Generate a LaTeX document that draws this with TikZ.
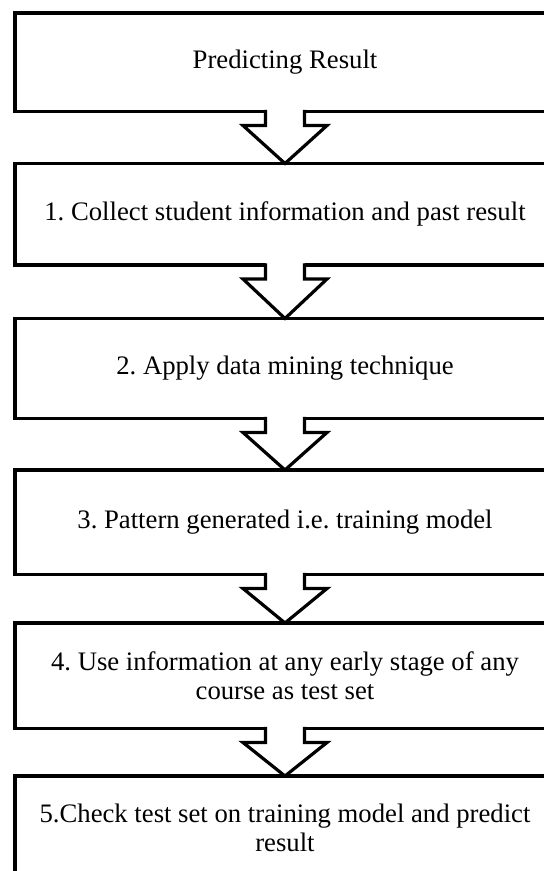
\documentclass[tikz,border=0pt]{standalone}
\usepackage{fontspec}
\setmainfont{Liberation Serif}
\usetikzlibrary{calc}
\frenchspacing
\begin{document}
\begin{tikzpicture}[x=1pt,y=-1pt,
  stepbox/.style={draw=black, line width=3.2pt, minimum width=540pt, outer sep=0pt,
    inner sep=0pt, align=center, text=black, font=\fontsize{26.7}{28.5}\selectfont},
  arrowline/.style={draw=black, line width=3.2pt, line join=miter},
  arrowfill/.style={fill=white, draw=none}]
\useasboundingbox (0,0) rectangle (544,871);
\clip (0,0) rectangle (544,871);
\node[stepbox, minimum height=98.5pt] (b0) at (285,62.25) {Predicting Result};
\node[stepbox, minimum height=101.5pt] (b1) at (285,214.25) {1. Collect student information and past result};
\node[stepbox, minimum height=100pt] (b2) at (285,368.5) {2. Apply data mining technique};
\node[stepbox, minimum height=104.5pt] (b3) at (285,522.25) {3. Pattern generated i.e. training model};
\node[stepbox, minimum height=105.5pt] (b4) at (285,675.75) {4. Use information at any early stage of any\\course as test set};
\node[stepbox, minimum height=104pt] (b5) at (285,828) {5.Check test set on training model and predict\\result};
\foreach \a/\b in {b0/b1,b1/b2,b2/b3,b3/b4,b4/b5}{
  \path[arrowfill] ($(\a.south)+(-19.5,-2)$) -- ($(\a.south)+(19.5,-2)$) -- ($(\a.south)+(19.5,14)$)
    -- ($(\a.south)+(42,14)$) -- (\b.north) -- ($(\a.south)+(-42,14)$) -- ($(\a.south)+(-19.5,14)$) -- cycle;
  \path[arrowline] ($(\a.south)+(-19.5,-1.6)$) -- ($(\a.south)+(-19.5,14)$) -- ($(\a.south)+(-42,14)$)
    -- (\b.north) -- ($(\a.south)+(42,14)$) -- ($(\a.south)+(19.5,14)$) -- ($(\a.south)+(19.5,-1.6)$);
}
\end{tikzpicture}
\end{document}
